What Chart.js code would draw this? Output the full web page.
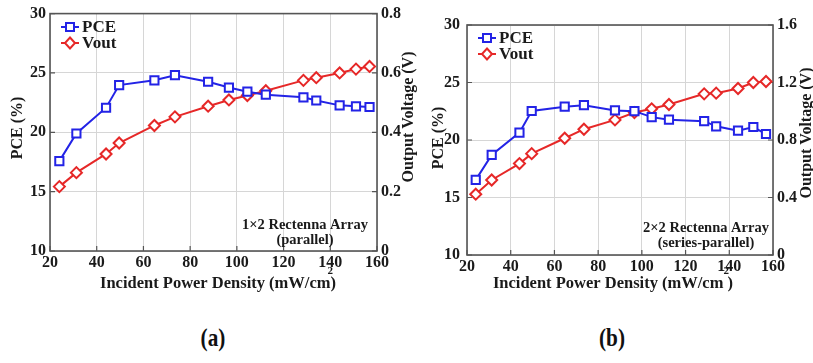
<!DOCTYPE html>
<html>
<head>
<meta charset="utf-8">
<script src="https://cdn.jsdelivr.net/npm/chart.js@4.4.1/dist/chart.umd.min.js"></script>
<style>
html, body { margin: 0; padding: 0; background: #fff; }
body { width: 813px; height: 363px; position: relative; overflow: hidden; }
#chartA { position: absolute; left: 0; top: 0; }
#chartB { position: absolute; left: 425px; top: 0; }
.lab { position: absolute; top: 324px; font: bold 25px 'Liberation Serif', serif; color: #111; transform: translateX(-50%) scaleX(0.85); }
</style>
</head>
<body>
<canvas id="chartA" width="425" height="300"></canvas>
<canvas id="chartB" width="388" height="300"></canvas>
<div class="lab" style="left:213px">(a)</div>
<div class="lab" style="left:612px">(b)</div>
<script>
// Incident power density (mW/cm2), same sweep for both arrays
const powerDensity = [24, 31.3, 44, 49.6, 64.7, 73.5, 87.7, 96.6, 104.5, 112.4, 128.5, 134, 144, 151, 156.8];

// (a) 1x2 array, parallel
const pceA = [17.57, 19.9, 22.07, 23.98, 24.38, 24.81, 24.26, 23.77, 23.42, 23.17, 22.95, 22.68, 22.27, 22.19, 22.13];
const voutA = [0.217, 0.264, 0.327, 0.364, 0.423, 0.452, 0.488, 0.509, 0.524, 0.54, 0.575, 0.584, 0.6, 0.613, 0.622];

// (b) 2x2 array, series-parallel
const pceB = [16.53, 18.7, 20.64, 22.52, 22.9, 23.03, 22.57, 22.51, 21.99, 21.77, 21.64, 21.19, 20.81, 21.13, 20.52];
const voutB = [0.423, 0.522, 0.636, 0.705, 0.812, 0.875, 0.94, 0.991, 1.017, 1.047, 1.121, 1.126, 1.158, 1.2, 1.207];

// tick labels
const xTicks = [20, 40, 60, 80, 100, 120, 140, 160];
const pceTicks = [10, 15, 20, 25, 30];
const voutTicksA = [0, 0.2, 0.4, 0.6, 0.8];
const voutTicksB = [0, 0.4, 0.8, 1.2, 1.6];

const BLUE = '#2323e6';
const RED = '#e62828';
const FONT = "'Liberation Serif', 'Times New Roman', serif";

Chart.defaults.font.family = FONT;
Chart.defaults.font.weight = 'bold';
Chart.defaults.font.size = 16;
Chart.defaults.color = '#1a1a1a';

function drawMarker(ctx, style, x, y, color) {
    ctx.save();
    ctx.strokeStyle = color;
    ctx.fillStyle = '#fff';
    ctx.lineWidth = 2;
    ctx.beginPath();
    if (style === 'rect') {
        ctx.rect(x - 4, y - 4, 8, 8);
    } else {
        ctx.moveTo(x, y - 5.5); ctx.lineTo(x + 5, y); ctx.lineTo(x, y + 5.5); ctx.lineTo(x - 5, y); ctx.closePath();
    }
    ctx.fill();
    ctx.stroke();
    ctx.restore();
}

// frame, inner ticks, legend, note and axis titles
const decor = {
    id: 'decor',
    beforeDatasetsDraw(chart) {
        const { ctx, chartArea: a, scales } = chart;
        ctx.save();
        ctx.strokeStyle = '#555';
        ctx.lineWidth = 1.2;
        ctx.beginPath();
        scales.x.ticks.forEach(t => {
            const px = scales.x.getPixelForValue(t.value);
            ctx.moveTo(px, a.bottom); ctx.lineTo(px, a.bottom - 5);
        });
        scales.y.ticks.forEach(t => {
            const py = scales.y.getPixelForValue(t.value);
            ctx.moveTo(a.left, py); ctx.lineTo(a.left + 5, py);
            ctx.moveTo(a.right, py); ctx.lineTo(a.right - 5, py);
        });
        ctx.stroke();
        ctx.lineWidth = 1.6;
        ctx.strokeRect(a.left, a.top, a.right - a.left, a.bottom - a.top);
        ctx.restore();
    },
    afterDraw(chart, args, o) {
        const ctx = chart.ctx;
        ctx.save();
        ctx.fillStyle = '#1a1a1a';
        ctx.textBaseline = 'middle';

        // legend
        const lg = o.legend;
        [['PCE', BLUE, 'rect', 0], ['Vout', RED, 'rectRot', 16]].forEach(([txt, col, st, dy]) => {
            const y = lg.y + dy;
            ctx.strokeStyle = col;
            ctx.lineWidth = 2;
            ctx.beginPath(); ctx.moveTo(lg.x, y); ctx.lineTo(lg.x + 18, y); ctx.stroke();
            drawMarker(ctx, st, lg.x + 9, y, col);
            ctx.fillStyle = '#1a1a1a';
            ctx.font = 'bold 17px ' + FONT;
            ctx.textAlign = 'left';
            ctx.fillText(txt, lg.x + 21, y + 1);
        });

        // note
        ctx.font = 'bold 14.5px ' + FONT;
        ctx.textAlign = 'center';
        ctx.fillText(o.note[0], o.noteX, o.noteY);
        ctx.fillText(o.note[1], o.noteX, o.noteY + 15);

        // x title with raised 2
        ctx.font = 'bold 16.5px ' + FONT;
        const head = 'Incident Power Density (mW/cm';
        const tail = o.gap ? ' )' : ')';
        const wHead = ctx.measureText(head).width;
        const wTail = ctx.measureText(tail).width;
        const x0 = o.xTitle[0] - (wHead + wTail) / 2;
        ctx.textAlign = 'left';
        ctx.fillText(head, x0, o.xTitle[1]);
        ctx.fillText(tail, x0 + wHead, o.xTitle[1]);
        ctx.font = 'bold 11px ' + FONT;
        ctx.fillText('2', x0 + wHead + (o.gap ? 0 : -3), o.xTitle[1] - 13);

        // vertical titles
        ctx.font = 'bold 16px ' + FONT;
        ctx.textAlign = 'center';
        [[o.leftTitle, 'PCE (%)'], [o.rightTitle, 'Output Voltage (V)']].forEach(([p, txt]) => {
            ctx.save();
            ctx.translate(p[0], p[1]);
            ctx.rotate(-Math.PI / 2);
            ctx.fillText(txt, 0, 0);
            ctx.restore();
        });
        ctx.restore();
    }
};

function makeChart(id, pce, vout, voutTicks, box, deco) {
    const pts = (ys) => powerDensity.map((x, i) => ({ x: x, y: ys[i] }));
    return new Chart(document.getElementById(id), {
        type: 'line',
        data: {
            datasets: [{
                label: 'PCE',
                data: pts(pce),
                yAxisID: 'y',
                borderColor: BLUE,
                backgroundColor: '#fff',
                borderWidth: 2,
                pointStyle: 'rect',
                pointRadius: 5.8,
                pointBorderWidth: 2,
                pointBorderColor: BLUE,
                pointBackgroundColor: '#fff',
                tension: 0
            }, {
                label: 'Vout',
                data: pts(vout),
                yAxisID: 'y1',
                borderColor: RED,
                backgroundColor: '#fff',
                borderWidth: 2,
                pointStyle: 'rectRot',
                pointRadius: 5.5,
                pointBorderWidth: 2,
                pointBorderColor: RED,
                pointBackgroundColor: '#fff',
                tension: 0
            }]
        },
        options: {
            responsive: false,
            animation: false,
            layout: { padding: { top: box.top, left: 0, right: 0, bottom: 0 } },
            plugins: {
                legend: { display: false },
                tooltip: { enabled: false },
                decor: deco
            },
            scales: {
                x: {
                    type: 'linear',
                    position: 'bottom',
                    min: 20,
                    max: 160,
                    afterBuildTicks: s => { s.ticks = xTicks.map(v => ({ value: v })); },
                    afterFit: s => { s.height = box.bottom; },
                    ticks: { padding: 2, maxRotation: 0, autoSkip: false },
                    grid: { color: '#d6d6d6', drawTicks: false },
                    border: { display: false }
                },
                y: {
                    position: 'left',
                    min: 10,
                    max: 30,
                    afterBuildTicks: s => { s.ticks = pceTicks.map(v => ({ value: v })); },
                    afterFit: s => { s.width = box.left; },
                    ticks: { padding: box.padL },
                    grid: { color: '#d6d6d6', drawTicks: false },
                    border: { display: false }
                },
                y1: {
                    position: 'right',
                    min: 0,
                    max: voutTicks[voutTicks.length - 1],
                    afterBuildTicks: s => { s.ticks = voutTicks.map(v => ({ value: v })); },
                    afterFit: s => { s.width = box.right; },
                    ticks: { padding: 4, callback: v => String(Math.round(v * 10) / 10) },
                    grid: { display: false, drawTicks: false },
                    border: { display: false }
                }
            }
        },
        plugins: [decor]
    });
}

makeChart('chartA', pceA, voutA, voutTicksA,
    { top: 12, bottom: 49, left: 50, right: 48, padL: 4 },
    {
        legend: { x: 61, y: 27 },
        note: ['1\u00d72 Rectenna Array', '(parallel)'], noteX: 305, noteY: 225,
        xTitle: [218, 284], gap: false,
        leftTitle: [18, 128], rightTitle: [409, 117]
    });

makeChart('chartB', pceB, voutB, voutTicksB,
    { top: 25, bottom: 45, left: 42, right: 40, padL: 7 },
    {
        legend: { x: 53, y: 38 },
        note: ['2\u00d72 Rectenna Array', '(series-parallel)'], noteX: 281, noteY: 228,
        xTitle: [188, 284], gap: true,
        leftTitle: [14, 138], rightTitle: [382, 133]
    });
</script>
</body>
</html>
